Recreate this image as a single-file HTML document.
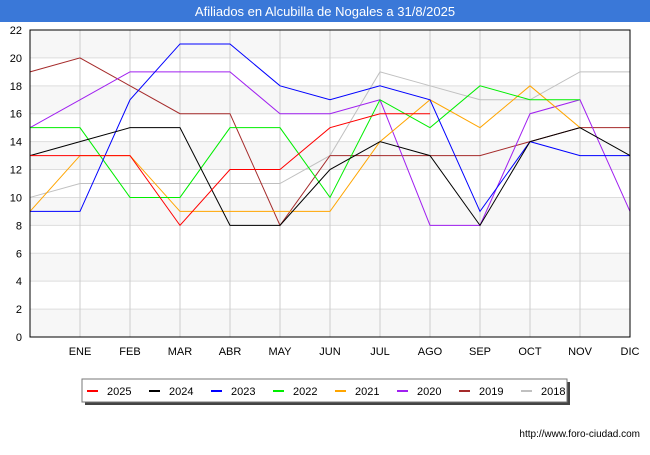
<!DOCTYPE html>
<html><head><meta charset="utf-8"><style>
body{margin:0;width:650px;height:450px;background:#fff;font-family:"Liberation Sans","DejaVu Sans",sans-serif;overflow:hidden}
</style></head><body>
<svg id="c" width="650" height="450" xmlns="http://www.w3.org/2000/svg">
<rect x="0" y="0" width="650" height="22" fill="#3a78d8"/>
<text x="325" y="16" text-anchor="middle" font-size="13" fill="#fff">Afiliados en Alcubilla de Nogales a 31/8/2025</text>
<g id="grid"></g><g id="series"></g>
<rect x="30" y="30" width="600" height="307" fill="none" stroke="#000"/>
<rect x="85" y="382" width="485" height="23" fill="#444"/>
<rect x="82" y="379" width="485" height="23" fill="#fff" stroke="#777"/>
<g id="legend"></g>
<text x="640" y="437" text-anchor="end" font-size="10" fill="#000">http://www.foro-ciudad.com</text>
</svg>
<script>
const months=["","ENE","FEB","MAR","ABR","MAY","JUN","JUL","AGO","SEP","OCT","NOV","DIC"];
const yTicks=[0,2,4,6,8,10,12,14,16,18,20,22];
const years=["2025","2024","2023","2022","2021","2020","2019","2018"];
const colors=["#ff0000","#000000","#0000ff","#00ee00","#ffa500","#a020f0","#a52a2a","#c0c0c0"];
const s2025=[13,13,13,8,12,12,15,16,16];
const s2024=[13,14,15,15,8,8,12,14,13,8,14,15,13];
const s2023=[9,9,17,21,21,18,17,18,17,9,14,13,13];
const s2022=[15,15,10,10,15,15,10,17,15,18,17,17];
const s2021=[9,13,13,9,9,9,9,14,17,15,18,15];
const s2020=[15,17,19,19,19,16,16,17,8,8,16,17,9];
const s2019=[19,20,18,16,16,8,13,13,13,13,14,15,15];
const s2018=[10,11,11,11,11,11,13,19,18,17,17,19,19];
const data=[s2025,s2024,s2023,s2022,s2021,s2020,s2019,s2018];
const NS="http://www.w3.org/2000/svg";
const X=i=>30+i*50, Y=v=>337-v*(307/22);
function mk(t,a,p){const e=document.createElementNS(NS,t);for(const k in a)e.setAttribute(k,a[k]);p.appendChild(e);return e;}
const g=document.getElementById('grid');
for(let i=0;i<yTicks.length-1;i++){
 if(i%2==0){const r=mk('rect',{x:30,y:Y(yTicks[i+1]),width:600,height:Y(yTicks[i])-Y(yTicks[i+1]),fill:'#f7f7f7'},g);
 
 }
}
yTicks.forEach(v=>{
 const l=mk('line',{x1:30,x2:630,y1:Y(v),y2:Y(v),stroke:'#ddd'},g);
 
 
 const t=mk('text',{x:22,y:Y(v)+4,'text-anchor':'end','font-size':11},g);t.textContent=v;
 
 
});
months.forEach((m,i)=>{
 const l=mk('line',{x1:X(i),x2:X(i),y1:30,y2:337,stroke:'#ccc'},g);
 
 
 if(m){const t=mk('text',{x:X(i),y:355,'text-anchor':'middle','font-size':11},g);t.textContent=m;
 
 }
});
const sg=document.getElementById('series');
for(let k=data.length-1;k>=0;k--){
 const p=mk('polyline',{points:data[k].map((v,i)=>X(i)+','+Y(v)).join(' '),fill:'none',stroke:colors[k],'stroke-width':1},sg);
 
 
}
const lg=document.getElementById('legend');
years.forEach((y,k)=>{
 const x0=87+k*62;
 const l=mk('line',{x1:x0,x2:x0+11,y1:391,y2:391,stroke:colors[k],'stroke-width':2},lg);
 
 
 const t=mk('text',{x:x0+20,y:395,'font-size':11},lg);t.textContent=y;
 
 
});
</script>
</body></html>
